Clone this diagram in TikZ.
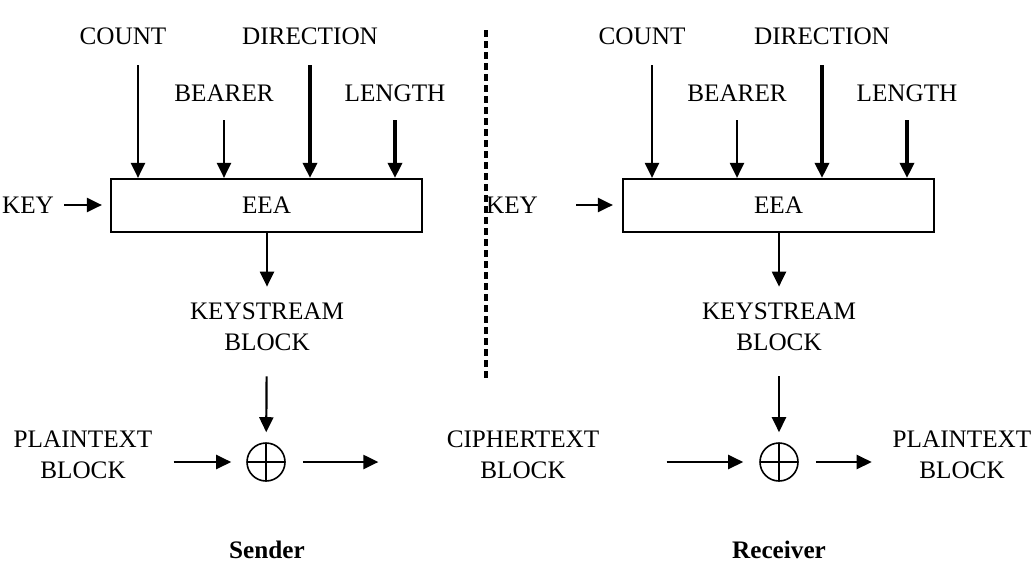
\documentclass[tikz,border=0pt]{standalone}
\usepackage{fontspec}
\setmainfont{Liberation Serif}
\usetikzlibrary{arrows.meta,positioning}

\begin{document}
\begin{tikzpicture}[
    x=0.5pt, y=-0.5pt,
    font=\fontsize{12.6}{15.5}\selectfont,
    lbl/.style={align=center, inner sep=2pt},
    box/.style={draw, line width=1.1pt, minimum width=155.5pt, minimum height=26.5pt, inner sep=0pt},
    xor/.style={draw, circle, line width=0.8pt, minimum size=19pt, inner sep=0pt,
      path picture={\draw[line width=0.8pt] (path picture bounding box.north) -- (path picture bounding box.south)
        (path picture bounding box.west) -- (path picture bounding box.east);}},
    arr/.style={-{Triangle[length=7.5pt, width=7pt]}, line width=1.1pt},
    tarr/.style={arr, line width=1.7pt}]
  \useasboundingbox (0,0) rectangle (1036,568);
  % sender
  \node[lbl] (cnts) at (123,36) {COUNT};
  \node[lbl] (dirs) at (310,36) {DIRECTION};
  \node[lbl] (bears) at (224,93) {BEARER};
  \node[lbl] (lens) at (395,93) {LENGTH};
  \node[box] (eeas) at (266.5,205.5) {EEA};
  \node[lbl] (keys) at (28,205) {KEY};
  \node[lbl] (kss) at (267,327) {KEYSTREAM\\BLOCK};
  \node[xor] (xs) at (266,462) {};
  \node[lbl] (pts) at (83,455) {PLAINTEXT\\BLOCK};
  \node[font=\fontsize{12.6}{15.5}\selectfont\bfseries] (snd) at (267,550) {Sender};
  \coordinate (cntsin) at (138,65);
  \coordinate (dirsin) at (310,65);
  \coordinate (bearsin) at (224,120);
  \coordinate (lensin) at (395,120);
  \draw[arr] (cntsin) -- (cntsin |- eeas.north);
  \draw[arr] (bearsin) -- (bearsin |- eeas.north);
  \draw[tarr] (dirsin) -- (dirsin |- eeas.north);
  \draw[tarr] (lensin) -- (lensin |- eeas.north);
  \draw[arr, shorten <=3pt, shorten >=4pt] (keys) -- (eeas.west |- keys);
  \draw[arr, shorten >=6pt] (eeas.south -| kss) -- (kss);
  \draw[arr, shorten <=10.5pt, shorten >=5pt] (kss) -- (xs);
  \draw[arr, shorten <=8.5pt, shorten >=7.5pt] (pts.east |- xs) -- (xs);
  % ciphertext
  \node[lbl] (cts) at (523,455) {CIPHERTEXT\\BLOCK};
  \draw[arr, shorten <=8.5pt, shorten >=32pt] (xs) -- (cts.west |- xs);
  % divider
  \coordinate (dtop) at (486,30);
  \coordinate (dbot) at (486,380);
  \draw[line width=1.6pt, dash pattern=on 3.5pt off 2pt] (dtop) -- (dbot);
  % receiver
  \node[lbl] (cntr) at (642,36) {COUNT};
  \node[lbl] (dirr) at (822,36) {DIRECTION};
  \node[lbl] (bearr) at (737,93) {BEARER};
  \node[lbl] (lenr) at (907,93) {LENGTH};
  \node[box] (eear) at (778.5,205.5) {EEA};
  \node[lbl] (keyr) at (512,205) {KEY};
  \node[lbl] (ksr) at (779,327) {KEYSTREAM\\BLOCK};
  \node[xor] (xr) at (779,462) {};
  \node[lbl] (ptr) at (962,455) {PLAINTEXT\\BLOCK};
  \node[font=\fontsize{12.6}{15.5}\selectfont\bfseries] (rcv) at (779,550) {Receiver};
  \coordinate (cntrin) at (652,65);
  \coordinate (dirrin) at (822,65);
  \coordinate (bearrin) at (737,120);
  \coordinate (lenrin) at (907,120);
  \draw[arr] (cntrin) -- (cntrin |- eear.north);
  \draw[arr] (bearrin) -- (bearrin |- eear.north);
  \draw[tarr] (dirrin) -- (dirrin |- eear.north);
  \draw[tarr] (lenrin) -- (lenrin |- eear.north);
  \draw[arr, shorten <=17pt, shorten >=4.5pt] (keyr) -- (eear.west |- keyr);
  \draw[arr, shorten >=6pt] (eear.south -| ksr) -- (ksr);
  \draw[arr, shorten <=10.5pt, shorten >=5pt] (ksr) -- (xr);
  \draw[arr, shorten <=31.5pt, shorten >=8pt] (cts.east |- xr) -- (xr);
  \draw[arr, shorten <=8.5pt, shorten >=8.3pt] (xr) -- (ptr.west |- xr);
\end{tikzpicture}
\end{document}
